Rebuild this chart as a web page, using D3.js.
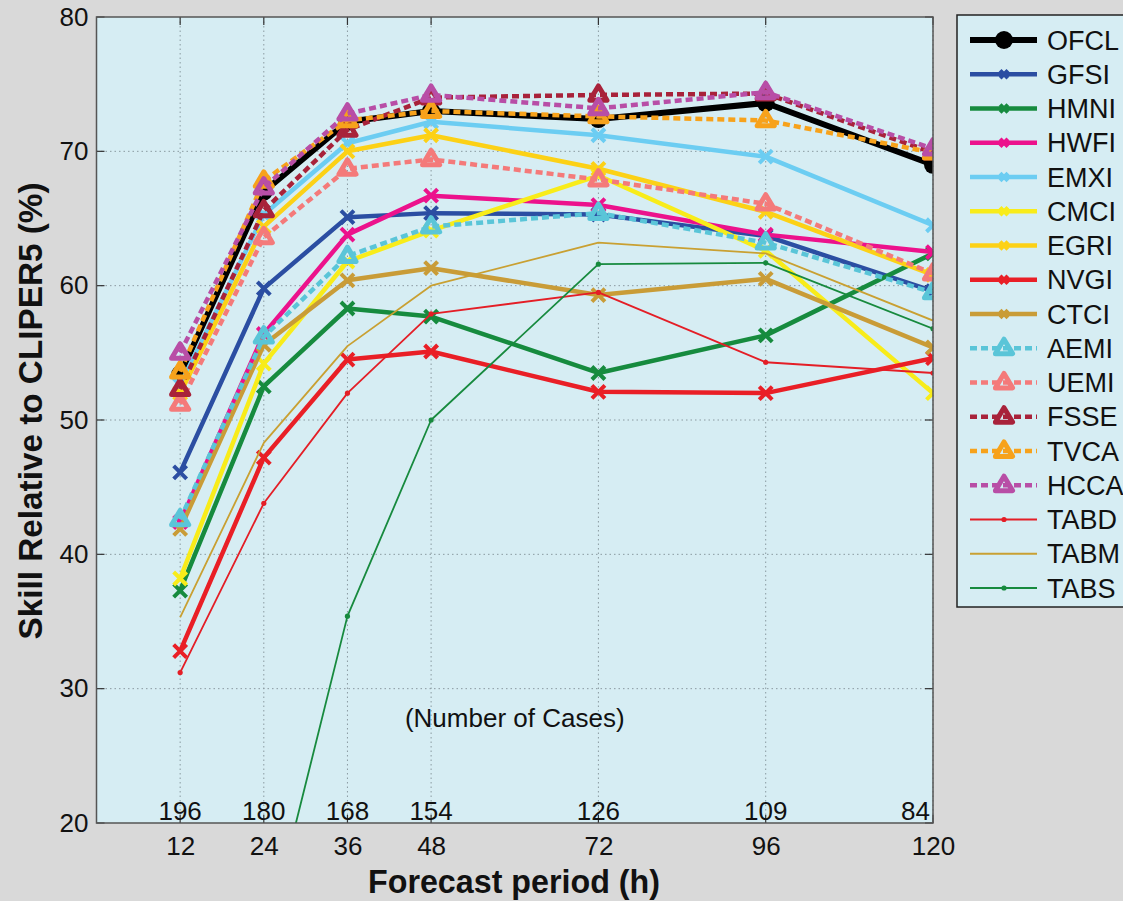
<!DOCTYPE html>
<html>
<head>
<meta charset="utf-8">
<script src="https://cdn.jsdelivr.net/npm/d3@7"></script>
<style>
  html, body { margin: 0; padding: 0; background: #d9d9d9; }
  svg { display: block; font-family: "Liberation Sans", Arial, sans-serif; }
</style>
</head>
<body>
<svg id="chart" width="1123" height="901"></svg>
<script>
// forecast hours and number of cases
const hours = [12, 24, 36, 48, 72, 96, 120];
const cases = [196, 180, 168, 154, 126, 109, 84];
const yTicks = [20, 30, 40, 50, 60, 70, 80];

// skill (%) per model
const ofcl = [53.4, 67.0, 72.2, 73.0, 72.4, 73.6, 69.0];
const gfsi = [46.1, 59.8, 65.1, 65.4, 65.3, 63.7, 59.6];
const hmni = [37.3, 52.5, 58.3, 57.7, 53.5, 56.3, 62.4];
const hwfi = [42.4, 56.4, 63.8, 66.7, 66.0, 63.8, 62.5];
const emxi = [52.6, 65.3, 70.6, 72.2, 71.2, 69.6, 64.5];
const cmci = [38.2, 54.2, 61.8, 64.1, 68.2, 62.6, 52.0];
const egri = [52.0, 64.4, 70.0, 71.2, 68.7, 65.5, 60.8];
const nvgi = [32.8, 47.2, 54.5, 55.1, 52.1, 52.0, 54.6];
const ctci = [41.9, 55.6, 60.4, 61.3, 59.3, 60.5, 55.4];
const aemi = [42.6, 56.2, 62.2, 64.4, 65.4, 63.2, 59.5];
const uemi = [51.2, 63.6, 68.7, 69.4, 67.9, 66.1, 60.9];
const fsse = [52.3, 65.6, 71.6, 74.0, 74.2, 74.3, 69.9];
const tvca = [53.6, 67.8, 72.3, 73.0, 72.6, 72.3, 69.9];
const hcca = [55.0, 67.3, 72.8, 74.2, 73.2, 74.4, 70.2];
const tabd = [31.2, 43.8, 52.0, 57.9, 59.5, 54.3, 53.5];
const tabm = [35.3, 48.3, 55.5, 60.0, 63.2, 62.4, 57.4];
const tabs = [null, 10.4, 35.4, 50.0, 61.6, 61.7, 56.8];

const models = ["OFCL", "GFSI", "HMNI", "HWFI", "EMXI", "CMCI", "EGRI", "NVGI", "CTCI",
                "AEMI", "UEMI", "FSSE", "TVCA", "HCCA", "TABD", "TABM", "TABS"];
const values = [ofcl, gfsi, hmni, hwfi, emxi, cmci, egri, nvgi, ctci,
                aemi, uemi, fsse, tvca, hcca, tabd, tabm, tabs];

// drawing styles (not data)
const styles = {
  OFCL: {color: "#000000", w: 6,   mark: "circle"},
  GFSI: {color: "#2b4ea2", w: 4.5, mark: "x"},
  HMNI: {color: "#168b3e", w: 4.5, mark: "x"},
  HWFI: {color: "#ec128c", w: 4.5, mark: "x"},
  EMXI: {color: "#6ccdf2", w: 4.5, mark: "x"},
  CMCI: {color: "#f8ec1a", w: 4.5, mark: "x"},
  EGRI: {color: "#fcd116", w: 4.5, mark: "x"},
  NVGI: {color: "#e91f26", w: 4.5, mark: "x"},
  CTCI: {color: "#c99c37", w: 4.5, mark: "x"},
  AEMI: {color: "#5ac5d8", w: 4.5, mark: "tri", dash: "7,4"},
  UEMI: {color: "#f47a7a", w: 4.5, mark: "tri", dash: "7,4"},
  FSSE: {color: "#a8223a", w: 4.5, mark: "tri", dash: "7,4"},
  TVCA: {color: "#f7a21b", w: 4.5, mark: "tri", dash: "7,4"},
  HCCA: {color: "#b84ea6", w: 4.5, mark: "tri", dash: "7,4"},
  TABD: {color: "#e41e26", w: 1.8, mark: "dot"},
  TABM: {color: "#c9a032", w: 1.8, mark: "none"},
  TABS: {color: "#178a3e", w: 1.8, mark: "dot"}
};

const svg = d3.select("#chart");
const plotBg = "#d6edf3";
const pLeft = 96.5, pRight = 933, pTop = 17, pBottom = 823;

const x = d3.scaleLinear().domain([0, 120]).range([pLeft, pRight]);
const y = d3.scaleLinear().domain([20, 80]).range([pBottom, pTop]);

svg.append("rect").attr("width", 1123).attr("height", 901).attr("fill", "#d9d9d9");
svg.append("rect")
    .attr("x", pLeft).attr("y", pTop)
    .attr("width", pRight - pLeft).attr("height", pBottom - pTop)
    .attr("fill", plotBg);

svg.append("defs").append("clipPath").attr("id", "clip")
  .append("rect")
    .attr("x", pLeft).attr("y", pTop)
    .attr("width", pRight - pLeft).attr("height", pBottom - pTop);

// dotted grid
const grid = svg.append("g").attr("stroke", "#8a9aa0").attr("stroke-width", 1).attr("stroke-dasharray", "1.5,3");
grid.selectAll(".gx").data(hours).join("line")
    .attr("x1", d => x(d)).attr("x2", d => x(d))
    .attr("y1", pTop).attr("y2", pBottom);
grid.selectAll(".gy").data(yTicks.slice(1, -1)).join("line")
    .attr("x1", pLeft).attr("x2", pRight)
    .attr("y1", d => y(d)).attr("y2", d => y(d));

// inner tick marks (matlab style)
const ticks = svg.append("g").attr("stroke", "#333").attr("stroke-width", 1.2);
hours.forEach(h => {
  ticks.append("line").attr("x1", x(h)).attr("x2", x(h)).attr("y1", pBottom).attr("y2", pBottom - 8);
  ticks.append("line").attr("x1", x(h)).attr("x2", x(h)).attr("y1", pTop).attr("y2", pTop + 8);
});
yTicks.forEach(v => {
  ticks.append("line").attr("x1", pLeft).attr("x2", pLeft + 8).attr("y1", y(v)).attr("y2", y(v));
  ticks.append("line").attr("x1", pRight).attr("x2", pRight - 8).attr("y1", y(v)).attr("y2", y(v));
});

// axis labels via d3 axes
const xAxis = svg.append("g")
    .attr("transform", `translate(0,${pBottom})`)
    .call(d3.axisBottom(x).tickValues(hours).tickSize(0).tickPadding(14));
const yAxis = svg.append("g")
    .attr("transform", `translate(${pLeft},0)`)
    .call(d3.axisLeft(y).tickValues(yTicks).tickSize(0).tickPadding(8));
[xAxis, yAxis].forEach(a => {
  a.select(".domain").remove();
  a.selectAll("text").attr("font-size", 26).attr("fill", "#111")
    .style("font-family", "'Liberation Sans', Arial, sans-serif");
});

// number of cases inside the plot (last one kept inside the frame)
svg.append("g").selectAll("text").data(hours).join("text")
    .attr("x", (d, i) => i === hours.length - 1 ? pRight - 3 : x(d))
    .attr("y", pBottom - 3)
    .attr("text-anchor", (d, i) => i === hours.length - 1 ? "end" : "middle")
    .attr("font-size", 26).attr("fill", "#111")
    .text((d, i) => cases[i]);

svg.append("text")
    .attr("x", x(60)).attr("y", 727)
    .attr("text-anchor", "middle").attr("font-size", 26).attr("fill", "#111")
    .text("(Number of Cases)");

// lines and markers
const lineGen = d3.line()
    .defined(d => d.v != null)
    .x(d => x(d.h)).y(d => y(d.v));

const series = svg.append("g").attr("clip-path", "url(#clip)");

function drawMarker(g, type, cx, cy, color, scale) {
  const s = scale || 1;
  if (type === "circle") {
    g.append("circle").attr("cx", cx).attr("cy", cy).attr("r", 9 * s).attr("fill", color);
  } else if (type === "x") {
    const r = 6.5 * s;
    g.append("path")
        .attr("d", `M${cx - r},${cy - r}L${cx + r},${cy + r}M${cx - r},${cy + r}L${cx + r},${cy - r}`)
        .attr("stroke", color).attr("stroke-width", 4).attr("fill", "none");
  } else if (type === "tri") {
    const r = 9 * s;
    g.append("path")
        .attr("d", `M${cx},${cy - r}L${cx + r * 0.95},${cy + r * 0.6}L${cx - r * 0.95},${cy + r * 0.6}Z`)
        .attr("stroke", color).attr("stroke-width", 5).attr("stroke-linejoin", "round").attr("fill", "none");
  } else if (type === "dot") {
    g.append("circle").attr("cx", cx).attr("cy", cy).attr("r", 2.6).attr("fill", color);
  }
}

models.forEach((name, k) => {
  const st = styles[name];
  const pts = hours.map((h, i) => ({h: h, v: values[k][i]}));
  const g = series.append("g");
  g.append("path")
      .datum(pts)
      .attr("d", lineGen)
      .attr("fill", "none")
      .attr("stroke", st.color)
      .attr("stroke-width", st.w)
      .attr("stroke-linejoin", "round")
      .attr("stroke-dasharray", st.dash || null);
  pts.filter(p => p.v != null).forEach(p => drawMarker(g, st.mark, x(p.h), y(p.v), st.color));
});

// plot frame
svg.append("rect")
    .attr("x", pLeft).attr("y", pTop)
    .attr("width", pRight - pLeft).attr("height", pBottom - pTop)
    .attr("fill", "none").attr("stroke", "#555").attr("stroke-width", 1.5);

// axis titles
svg.append("text")
    .attr("x", 514).attr("y", 893)
    .attr("text-anchor", "middle").attr("font-size", 33).attr("font-weight", "bold")
    .attr("textLength", 292).attr("lengthAdjust", "spacingAndGlyphs")
    .attr("fill", "#111")
    .text("Forecast period (h)");

svg.append("text")
    .attr("transform", "translate(42,411) rotate(-90)")
    .attr("text-anchor", "middle").attr("font-size", 33).attr("font-weight", "bold")
    .attr("textLength", 457).attr("lengthAdjust", "spacingAndGlyphs")
    .attr("fill", "#111")
    .text("Skill Relative to CLIPER5 (%)");

// legend
const leg = svg.append("g");
leg.append("rect")
    .attr("x", 957).attr("y", 15).attr("width", 200).attr("height", 592)
    .attr("fill", plotBg).attr("stroke", "#222").attr("stroke-width", 1.5);

const rowY = d3.scalePoint().domain(models).range([40, 588]);
models.forEach(name => {
  const st = styles[name];
  const ry = rowY(name);
  leg.append("line")
      .attr("x1", 970).attr("x2", 1037).attr("y1", ry).attr("y2", ry)
      .attr("stroke", st.color).attr("stroke-width", st.w)
      .attr("stroke-dasharray", st.dash || null);
  drawMarker(leg, st.mark, 1004, ry, st.color, st.mark === "x" ? 0.6 : 1);
  leg.append("text")
      .attr("x", 1047).attr("y", ry).attr("dy", "0.36em")
      .attr("font-size", 27).attr("fill", "#111")
      .text(name);
});
</script>
</body>
</html>
